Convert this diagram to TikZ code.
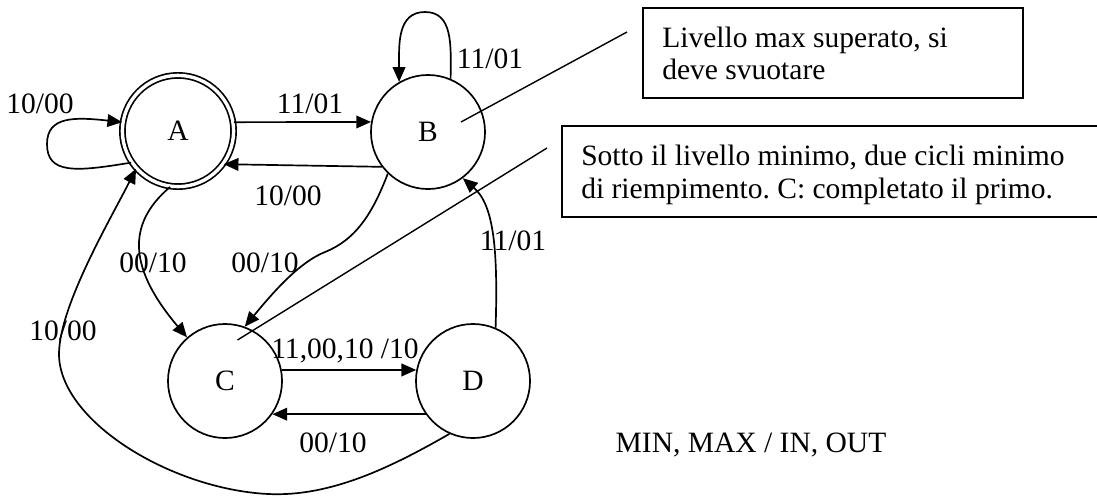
\documentclass[tikz,border=0pt]{standalone}
\usepackage{fontspec}
\setmainfont{Liberation Serif}
\frenchspacing
\usetikzlibrary{arrows.meta}
\begin{document}
\begin{tikzpicture}[x=0.025cm,y=-0.025cm,
  every node/.style={font=\fontsize{21}{25}\selectfont},
  state/.style={draw, circle, line width=1.2pt, minimum size=2.85cm, inner sep=0pt},
  accepting/.style={state, double, double distance=2.4pt, minimum size=2.78cm},
  arr/.style={line width=1.2pt, -{Triangle[length=10.5pt,width=9pt]}},
  lbl/.style={anchor=base, inner sep=0pt},
  notebox/.style={draw, line width=1.1pt, inner sep=0pt},
  notetext/.style={anchor=base west, inner sep=0pt},
  pointer/.style={line width=1pt}]
\useasboundingbox (0,0) rectangle (1097,495);

% states
\node[accepting] (A) at (178,131) {A};
\node[state] (B) at (428,132) {B};
\node[state] (C) at (225,381) {C};
\node[state] (D) at (473,381) {D};

% transitions
\draw[arr] (A.214) .. controls (75,172) and (47,174) .. (47,144)
  .. controls (47,116) and (75,117) .. (A.171);
\draw[arr] (A.9) -- (B.170);
\draw[arr] (B.217) -- (A.-36);
\draw[arr] (B.67) .. controls (451,45) and (453,12) .. (425,12)
  .. controls (397,12) and (399,45) .. (B.120);
\draw[arr] (B.226) .. controls (372,215) and (355,240) .. (325,252)
  .. controls (300,262) and (275,290) .. (C.70);
\draw[arr] (A.262) .. controls (125,225) and (130,270) .. (C.131);
\draw[arr] (C.11) -- (D.169);
\draw[arr] (D.215) -- (C.-35);
\draw[arr] (D.67) .. controls (498,250) and (494,205) .. (B.-53);
\draw[arr] (D.246) .. controls (390,468) and (330,497) .. (268,494)
  .. controls (170,489) and (58,420) .. (59,353)
  .. controls (60,305) and (110,220) .. (A.222);

% transition labels (anchored on their baselines)
\node[lbl] (lAA) at (40,113) {10/00};
\node[lbl] (lAB) at (310,113) {11/01};
\node[lbl] (lBA) at (288,205) {10/00};
\node[lbl] (lBB) at (490,68) {11/01};
\node[lbl] (lAC) at (153,272) {00/10};
\node[lbl] (lBC) at (265,272) {00/10};
\node[lbl] (lDB) at (513,250) {11/01};
\node[lbl] (lDA) at (63,340) {10/00};
\node[lbl] (lCD) at (345,358) {11,00,10 /10};
\node[lbl] (lDC) at (333,452) {00/10};
\node[lbl] (legend) at (751,452) {MIN, MAX / IN, OUT};

% notes
\node[notebox, minimum width=9.5cm, minimum height=2.25cm] (noteB) at (833,53) {};
\node[notetext] (noteB1) at (662,47) {Livello max superato, si};
\node[notetext] (noteB2) at (662,79) {deve svuotare};
\node[notebox, minimum width=13.7cm, minimum height=2.275cm] (noteC) at (836,171.5) {};
\node[notetext] (noteC1) at (581,165) {Sotto il livello minimo, due cicli minimo};
\node[notetext] (noteC2) at (581,198) {di riempimento. C: completato il primo.};
\coordinate (tipB) at (461,122);
\coordinate (endB) at (627,32);
\coordinate (tipC) at (237.5,340);
\coordinate (endC) at (547,148);
\draw[pointer] (tipB) -- (endB);
\draw[pointer] (tipC) -- (endC);
\end{tikzpicture}
\end{document}
